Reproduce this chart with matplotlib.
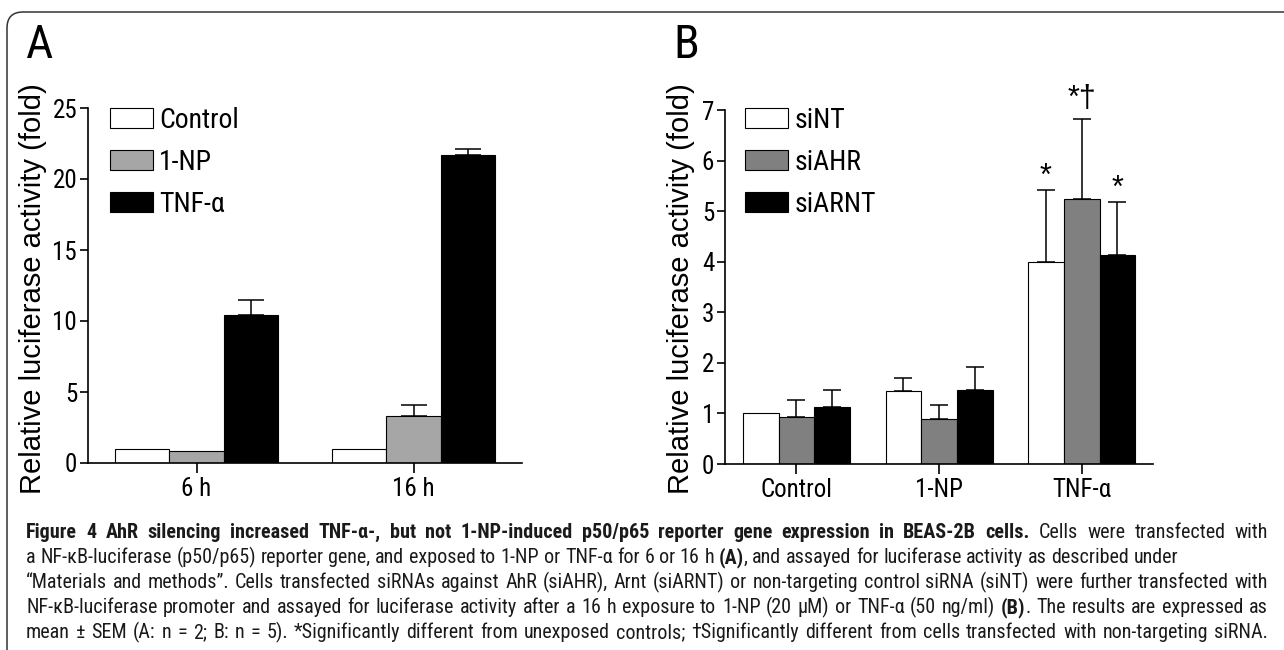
import matplotlib
matplotlib.use('Agg')
import matplotlib.pyplot as plt
from matplotlib import font_manager
from matplotlib.patches import FancyBboxPatch
import numpy as np

# pick a narrow face if one is installed, otherwise plain Liberation Sans
REG = 'Liberation Sans'
NARROW = REG
installed = {f.name for f in font_manager.fontManager.ttflist}
for cand in ['Liberation Sans Narrow', 'Arial Narrow', 'Nimbus Sans Narrow', 'Roboto Condensed']:
    if cand in installed:
        NARROW = cand
        break
plt.rcParams['font.family'] = [NARROW, 'DejaVu Sans']

# ---- Panel A data ----
times = ['6 h', '16 h']
a_labels = ['Control', '1-NP', 'TNF-α']
a_control = [1.0, 1.0]
a_np = [0.82, 3.3]
a_tnf = [10.4, 21.7]
a_control_sem = [0.0, 0.0]
a_np_sem = [0.0, 0.8]
a_tnf_sem = [1.1, 0.4]

# ---- Panel B data ----
exposures = ['Control', '1-NP', 'TNF-α']
b_labels = ['siNT', 'siAHR', 'siARNT']
b_sint = [1.0, 1.44, 3.99]
b_siahr = [0.92, 0.89, 5.24]
b_siarnt = [1.12, 1.47, 4.14]
b_sint_sem = [0.0, 0.26, 1.43]
b_siahr_sem = [0.34, 0.28, 1.59]
b_siarnt_sem = [0.35, 0.44, 1.04]
# significance marks on the TNF-alpha group
b_marks = ['*', '*†', '*']

W, H = 1284, 650
fig = plt.figure(figsize=(W / 100, H / 100), dpi=100)


def px_axes(left, right, bottom, top):
    return fig.add_axes([left / W, (H - bottom) / H, (right - left) / W, (bottom - top) / H])


def style_axes(ax):
    for s in ['top', 'right']:
        ax.spines[s].set_visible(False)
    for s in ['left', 'bottom']:
        ax.spines[s].set_linewidth(1.2)
    ax.tick_params(axis='y', direction='out', length=5.8, width=1.2, pad=2, labelsize=18)
    ax.tick_params(axis='x', direction='out', length=7.2, width=1.2, pad=3, labelsize=18)


def draw_bars(ax, series, sems, colors, labels, width, capsize):
    n = len(series)
    x = np.arange(len(series[0]))
    tops = []
    for i, (v, s, c, lab) in enumerate(zip(series, sems, colors, labels)):
        xi = x + (i - (n - 1) / 2) * width
        v = np.asarray(v)
        s = np.asarray(s)
        ax.bar(xi, v, width, color=c, edgecolor='black', linewidth=0.8,
               label=lab, zorder=2)
        m = s > 0
        ax.errorbar(xi[m], v[m], yerr=[np.zeros(m.sum()), s[m]], fmt='none',
                    ecolor='black', elinewidth=1.1, capsize=capsize,
                    capthick=1.1, zorder=1)
        tops.append((xi, v + s))
    ax.set_xticks(x)
    return tops


legend_kw = dict(loc='upper left', frameon=False, fontsize=20, handlelength=1.55,
                 handleheight=0.72, labelspacing=0.54, handletextpad=0.22,
                 borderpad=0, borderaxespad=0)

# Panel A
axA = px_axes(88, 522, 463, 108)
style_axes(axA)
draw_bars(axA, [a_control, a_np, a_tnf], [a_control_sem, a_np_sem, a_tnf_sem],
          ['white', '#a6a6a6', 'black'], a_labels, 0.25, 9.7)
axA.set_xticklabels(times)
axA.set_xlim(-0.5, 1.5)
axA.set_ylim(0, 25)
axA.set_yticks([0, 5, 10, 15, 20, 25])
axA.legend(bbox_to_anchor=(0.05, 1.003), **legend_kw)

# Panel B
axB = px_axes(725, 1153, 464, 110)
style_axes(axB)
tops = draw_bars(axB, [b_sint, b_siahr, b_siarnt],
                 [b_sint_sem, b_siahr_sem, b_siarnt_sem],
                 ['white', '#808080', 'black'], b_labels, 0.25, 6.5)
axB.set_xticklabels(exposures)
axB.set_xlim(-0.5, 2.5)
axB.set_ylim(0, 7)
axB.set_yticks(range(0, 8))
axB.legend(bbox_to_anchor=(0.047, 1.009), **legend_kw)

for (xi, top), mark in zip(tops, b_marks):
    off = 8 if '†' in mark else 3.5
    axB.annotate(mark, xy=(xi[2], top[2]), xytext=(0, off),
                 textcoords='offset points', ha='center', va='baseline',
                 fontsize=22, family=[REG, 'DejaVu Sans'])

# y labels and panel letters
for xc in [33, 681]:
    fig.text(xc / W, (H - 289) / H, 'Relative luciferase activity (fold)',
             rotation=90, ha='center', va='center', fontsize=21,
             family=[REG, 'DejaVu Sans'])
fig.text(40 / W, (H - 45) / H, 'A', ha='center', va='center', fontsize=34)
fig.text(686 / W, (H - 45) / H, 'B', ha='center', va='center', fontsize=34)

# rounded frame running off the right and bottom edges
frame = FancyBboxPatch((7, -60), 1400, H - 12 + 60,
                       boxstyle='round,pad=0,rounding_size=16',
                       transform=None, fill=False, edgecolor='#333333',
                       linewidth=1.1, clip_on=False)
fig.add_artist(frame)

# caption
cap_lines = [
    [("Figure 4 AhR silencing increased TNF-α-, but not 1-NP-induced p50/p65 reporter gene expression in BEAS-2B cells.", True),
     (" Cells were transfected with", False)],
    [("a NF-κB-luciferase (p50/p65) reporter gene, and exposed to 1-NP or TNF-α for 6 or 16 h ", False),
     ("(A)", True), (", and assayed for luciferase activity as described under", False)],
    [("“Materials and methods”. Cells transfected siRNAs against AhR (siAHR), Arnt (siARNT) or non-targeting control siRNA (siNT) were further transfected with", False)],
    [("NF-κB-luciferase promoter and assayed for luciferase activity after a 16 h exposure to 1-NP (20 μM) or TNF-α (50 ng/ml) ", False),
     ("(B)", True), (". The results are expressed as", False)],
    [("mean ± SEM (A: n = 2; B: n = 5). *Significantly different from unexposed controls; †Significantly different from cells transfected with non-targeting siRNA.", False)],
]
justify = [True, False, True, True, True]
baselines = [538, 563, 588, 613, 638]
cap_left, cap_right = 26, 1268
cap_family = [NARROW, 'DejaVu Sans']

renderer = fig.canvas.get_renderer()


def text_w(s, bold, size):
    t = fig.text(0, 0, s, fontsize=size, fontweight='bold' if bold else 'normal',
                 family=cap_family)
    w = t.get_window_extent(renderer).width
    t.remove()
    return w


def words_of(segments):
    words = [[]]
    for txt, bold in segments:
        for i, p in enumerate(txt.split(' ')):
            if i > 0:
                words.append([])
            if p:
                words[-1].append((p, bold))
    return [w for w in words if w]


def line_layout(segments, size):
    words = words_of(segments)
    widths = [[text_w(p, b, size) for p, b in w] for w in words]
    space = text_w('a a', False, size) - text_w('aa', False, size)
    return words, widths, space


def natural(seg, size):
    words, widths, space = line_layout(seg, size)
    return sum(sum(w) for w in widths) + space * (len(words) - 1)


span = cap_right - cap_left
base_size = 14.0
# size set by the plain-text lines; the bold first line shrinks only if it must
size = base_size * span / max(natural(s, base_size) for s in cap_lines[1:]) * 0.99
size = min(size, 14.5)
sizes = [min(size, base_size * span / natural(cap_lines[0], base_size) * 0.99)] + [size] * 4

for seg, just, base, sz in zip(cap_lines, justify, baselines, sizes):
    words, widths, space = line_layout(seg, sz)
    total = sum(sum(w) for w in widths)
    gap = (span - total) / (len(words) - 1) if just else space
    x = cap_left
    for w, ws in zip(words, widths):
        for (p, b), pw in zip(w, ws):
            fig.text(x / W, (H - base) / H, p, fontsize=sz,
                     fontweight='bold' if b else 'normal', family=cap_family,
                     ha='left', va='baseline', color='#1a1a1a')
            x += pw
        x += gap

fig.savefig('out.png', dpi=100)
